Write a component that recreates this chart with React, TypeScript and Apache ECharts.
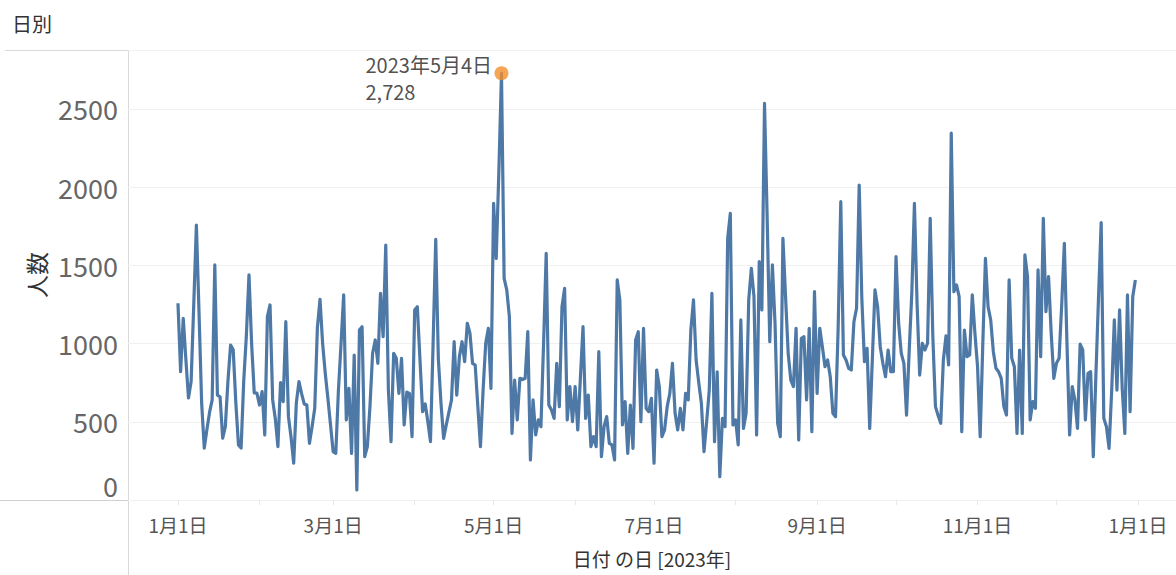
import React, { useEffect, useRef } from "react";
import * as echarts from "echarts";

const chartTitle = "日別";
const yAxisTitle = "人数";
const xAxisTitle = "日付 の日 [2023年]";
const startYear = 2023;

// daily counts, 2023-01-01 .. 2023-12-31
const dailyCounts: number[] = [
  1258, 820, 1162, 900, 652, 757, 1250, 1758, 1200, 620,
  332, 450, 560, 640, 1503, 671, 660, 396, 469, 760,
  991, 960, 620, 352, 332, 760, 1050, 1439, 1000, 684,
  684, 607, 693, 416, 1172, 1247, 640, 520, 341, 750,
  629, 1140, 533, 400, 235, 620, 757, 680, 614, 607,
  362, 470, 586, 1100, 1283, 1000, 810, 650, 480, 309,
  298, 700, 1000, 1311, 512, 714, 298, 927, 64, 1087,
  1108, 277, 341, 600, 938, 1023, 874, 1321, 1044, 1630,
  703, 373, 938, 906, 682, 906, 480, 690, 682, 405,
  1215, 1236, 900, 565, 614, 500, 373, 1000, 1667, 900,
  618, 394, 480, 560, 640, 1012, 671, 917, 1012, 884,
  1130, 1066, 874, 863, 600, 341, 700, 1002, 1098, 714,
  1897, 1545, 2100, 2728, 1417, 1343, 1172, 426, 767, 512,
  778, 770, 778, 1076, 256, 640, 416, 512, 469, 1000,
  1577, 607, 575, 522, 874, 597, 1236, 1353, 512, 725,
  501, 725, 448, 780, 1108, 522, 671, 341, 405, 341,
  948, 277, 469, 533, 362, 352, 256, 1407, 1279, 480,
  629, 298, 607, 330, 1023, 1076, 501, 1098, 586, 565,
  650, 235, 831, 725, 405, 448, 597, 682, 874, 554,
  448, 586, 448, 682, 640, 1087, 1279, 895, 750, 618,
  309, 500, 703, 1321, 373, 820, 149, 522, 469, 1673,
  1833, 480, 512, 352, 1151, 458, 554, 1279, 1481, 1300,
  416, 1524, 1215, 2536, 1812, 1012, 1503, 1130, 490, 405,
  1673, 1300, 938, 767, 725, 1098, 384, 1034, 1044, 640,
  1098, 437, 1332, 682, 1098, 980, 852, 895, 788, 554,
  533, 1100, 1907, 927, 895, 842, 831, 1140, 1226, 2014,
  1290, 884, 970, 458, 900, 1343, 1236, 980, 874, 788,
  959, 820, 820, 1556, 1130, 938, 874, 543, 950, 1321,
  1897, 1258, 799, 1002, 959, 1002, 1801, 1044, 597, 540,
  490, 895, 1049, 863, 2345, 1332, 1375, 1300, 437, 1087,
  916, 927, 1311, 1066, 852, 405, 1000, 1545, 1236, 1151,
  948, 842, 820, 778, 597, 543, 1407, 906, 852, 426,
  959, 426, 1567, 1428, 512, 629, 586, 1471, 916, 1801,
  1204, 1428, 1066, 778, 874, 906, 1250, 1641, 1000, 416,
  725, 640, 458, 997, 959, 512, 810, 820, 277, 800,
  1300, 1773, 522, 469, 330, 700, 1151, 703, 1215, 714,
  426, 1311, 565, 1300, 1407,
];

// x tick positions (day index from Jan 1) and their labels
const xLabelDays = [0, 59, 120, 181, 243, 304, 365];
const xLabelTexts = ["1月1日", "3月1日", "5月1日", "7月1日", "9月1日", "11月1日", "1月1日"];
const monthStartDays = [0, 31, 59, 90, 120, 151, 181, 212, 243, 273, 304, 334, 365];
const yTickValues = [0, 500, 1000, 1500, 2000, 2500];

const FONT = "'Noto Sans CJK JP', 'Noto Sans', sans-serif";

export default function App() {
  const ref = useRef<HTMLDivElement>(null);

  useEffect(() => {
    if (!ref.current) return;
    const chart = echarts.init(ref.current, undefined, { renderer: "svg" });

    let peakIdx = 0;
    dailyCounts.forEach((v, i) => {
      if (v > dailyCounts[peakIdx]) peakIdx = i;
    });
    const peakDate = new Date(startYear, 0, 1 + peakIdx);
    const peakLabel =
      `${peakDate.getFullYear()}年${peakDate.getMonth() + 1}月${peakDate.getDate()}日\n` +
      dailyCounts[peakIdx].toLocaleString("en-US");

    const option: any = {
      animation: false,
      backgroundColor: "#ffffff",
      textStyle: { fontFamily: FONT },
      title: {
        text: chartTitle,
        left: 12,
        top: 13,
        padding: 0,
        textStyle: { fontFamily: FONT, fontSize: 20, fontWeight: "normal", color: "#333333" },
      },
      grid: { left: 128, right: 0, top: 50, bottom: 75, containLabel: false },
      xAxis: {
        type: "value",
        min: -19,
        max: 379.45,
        name: xAxisTitle,
        nameLocation: "middle",
        nameGap: 49,
        nameTextStyle: { fontFamily: FONT, fontSize: 19, color: "#333333" },
        axisLine: { show: false },
        axisTick: {
          show: true,
          customValues: monthStartDays,
          length: 5,
          lineStyle: { color: "#e8e8e8" },
        },
        splitLine: { show: false },
        axisLabel: {
          customValues: xLabelDays,
          formatter: (v: number) => {
            const i = xLabelDays.indexOf(Math.round(v));
            return i >= 0 ? xLabelTexts[i] : "";
          },
          margin: 15,
          fontFamily: FONT,
          fontSize: 19,
          color: "#555555",
        },
      },
      yAxis: {
        type: "value",
        min: 0,
        max: 2877,
        interval: 500,
        name: yAxisTitle,
        nameLocation: "middle",
        nameGap: 81,
        nameRotate: 90,
        nameTextStyle: { fontFamily: FONT, fontSize: 23, color: "#333333" },
        axisLine: { show: false },
        axisTick: { show: false },
        splitLine: { show: true, lineStyle: { color: "#f0f0f0", width: 1 } },
        axisLabel: {
          customValues: yTickValues,
          margin: 10,
          fontFamily: FONT,
          fontSize: 27,
          color: "#666666",
          formatter: (v: number) => (v === 0 ? "{z|0}" : String(v)),
          rich: {
            z: { fontFamily: FONT, fontSize: 27, color: "#666666", padding: [0, 0, 30, 0] },
          },
        },
      },
      series: [
        {
          type: "line",
          data: dailyCounts.map((v, i) => [i, v]),
          showSymbol: false,
          symbol: "none",
          lineStyle: { color: "#4e79a7", width: 3.2, join: "round" },
          itemStyle: { color: "#4e79a7" },
          z: 2,
        },
        {
          type: "scatter",
          data: [[peakIdx, dailyCounts[peakIdx]]],
          symbolSize: 14,
          itemStyle: { color: "#f28e2b" },
          z: 3,
          label: {
            show: true,
            formatter: () => peakLabel,
            position: [-129, -15],
            align: "left",
            verticalAlign: "top",
            fontFamily: FONT,
            fontSize: 20,
            lineHeight: 27,
            color: "#222222",
          },
        },
      ],
      graphic: [
        { type: "line", shape: { x1: 5, y1: 50.5, x2: 1176, y2: 50.5 }, style: { stroke: "#d9d9d9", lineWidth: 1 }, silent: true },
        { type: "line", shape: { x1: 128.5, y1: 50, x2: 128.5, y2: 575 }, style: { stroke: "#d9d9d9", lineWidth: 1 }, silent: true },
        { type: "line", shape: { x1: 0, y1: 500.5, x2: 1176, y2: 500.5 }, style: { stroke: "#d0d0d0", lineWidth: 1 }, silent: true },
      ],
    };

    chart.setOption(option);
    return () => chart.dispose();
  }, []);

  return (
    <div
      ref={ref}
      style={{ position: "absolute", left: 0, top: 0, width: 1176, height: 575, background: "#fff" }}
    />
  );
}
